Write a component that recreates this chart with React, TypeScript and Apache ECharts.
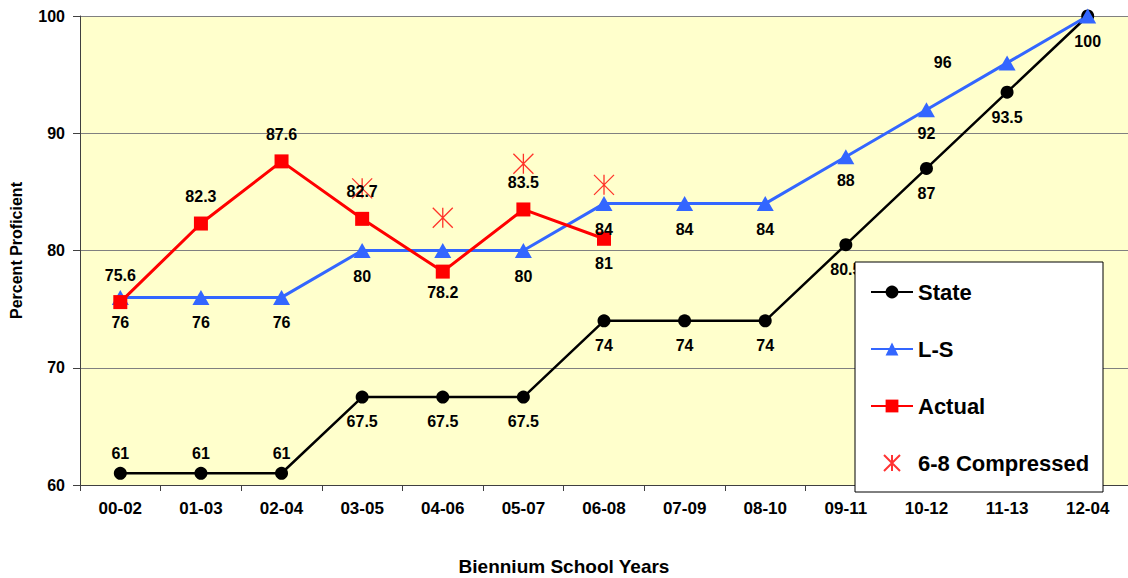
import React, { useEffect, useRef } from "react";
import * as echarts from "echarts";

const FONT = '"Liberation Sans", Arial, Helvetica, sans-serif';

const categories = ["00-02", "01-03", "02-04", "03-05", "04-06", "05-07", "06-08", "07-09", "08-10", "09-11", "10-12", "11-13", "12-04"];
const stateValues = [61, 61, 61, 67.5, 67.5, 67.5, 74, 74, 74, 80.5, 87, 93.5, 100];
const lsValues = [76, 76, 76, 80, 80, 80, 84, 84, 84, 88, 92, 96, 100];
const actualValues = [75.6, 82.3, 87.6, 82.7, 78.2, 83.5, 81, null, null, null, null, null, null];
const compressedValues = [null, null, null, 85.3, 82.8, 87.4, 85.6, null, null, null, null, null, null];
const yTicks = { min: 60, max: 100, interval: 10 };

// label placement (style only)
const statePos = ["top", "top", "top", "bottom", "bottom", "bottom", "bottom", "bottom", "bottom", "bottom", "bottom", "bottom", "bottom"];
const stateDist = [5, 5, 5, 10, 10, 10, 10, 10, 10, 10, 11, 11, 11];
const lsPos = ["bottom", "bottom", "bottom", "bottom", "none", "bottom", "bottom", "bottom", "bottom", "bottom", "bottom", "left", "none"];
const lsDist = [10, 10, 10, 10, 10, 10, 10, 10, 10, 8, 8, 47, 10];
const actualPos = ["top", "top", "top", "top", "bottom", "top", "bottom", "none", "none", "none", "none", "none", "none"];
const actualDist = [12, 12, 12, 12, 6, 12, 10, 0, 0, 0, 0, 0, 0];

function withLabels(values: (number | null)[], pos: string[], dist: number[]) {
  return values.map((v, i) => ({
    value: v,
    label:
      pos[i] === "none" || v === null
        ? { show: false }
        : { show: true, position: pos[i], distance: dist[i] },
  }));
}

const labelStyle = {
  show: true,
  fontFamily: FONT,
  fontWeight: "bold",
  fontSize: 16,
  color: "#000",
};

const STAR = "path://M0 0L20 20M20 0L0 20M10 0L10 20";

export default function App() {
  const ref = useRef<HTMLDivElement>(null);
  useEffect(() => {
    if (!ref.current) return;
    const chart = echarts.init(ref.current, null, { renderer: "svg" });
    chart.setOption({
      animation: false,
      textStyle: { fontFamily: FONT },
      grid: {
        left: 80,
        top: 16,
        width: 1060,
        height: 469,
        show: true,
        backgroundColor: "#FFFFCC",
        borderWidth: 0,
      },
      xAxis: {
        type: "category",
        data: categories,
        boundaryGap: true,
        axisLine: { show: true, lineStyle: { color: "#404040", width: 1 } },
        axisTick: { show: true, length: 6, lineStyle: { color: "#404040" } },
        axisLabel: {
          interval: 0,
          margin: 15,
          fontFamily: FONT,
          fontWeight: "bold",
          fontSize: 17,
          color: "#000",
        },
        splitLine: { show: false },
      },
      yAxis: {
        type: "value",
        min: yTicks.min,
        max: yTicks.max,
        interval: yTicks.interval,
        name: "Percent Proficient",
        nameLocation: "middle",
        nameGap: 56,
        nameTextStyle: { fontFamily: FONT, fontWeight: "bold", fontSize: 16, color: "#000" },
        axisLine: { show: true, lineStyle: { color: "#404040", width: 1 } },
        axisTick: { show: true, length: 7, lineStyle: { color: "#404040" } },
        axisLabel: {
          margin: 15,
          fontFamily: FONT,
          fontWeight: "bold",
          fontSize: 16,
          color: "#000",
        },
        splitLine: { show: true, lineStyle: { color: "#808080", width: 1 } },
      },
      legend: {
        orient: "vertical",
        left: 870,
        top: 281,
        itemWidth: 42,
        itemHeight: 16,
        itemGap: 35,
        padding: 0,
        selectedMode: false,
        z: 110,
        textStyle: { fontFamily: FONT, fontWeight: "bold", fontSize: 22, lineHeight: 22, color: "#000" },
        data: ["State", "L-S", "Actual", "6-8 Compressed"],
      },
      graphic: [
        {
          type: "rect",
          z: 100,
          shape: { x: 855, y: 262, width: 248, height: 230 },
          style: { fill: "#FFFFFF", stroke: "#000000", lineWidth: 1 },
        },
        {
          type: "text",
          z: 100,
          x: 564,
          y: 566,
          style: {
            text: "Biennium School Years",
            fontFamily: FONT,
            fontWeight: "bold",
            fontSize: 19,
            fill: "#000",
            align: "center",
            verticalAlign: "middle",
          },
        },
      ],
      series: [
        {
          name: "State",
          type: "line",
          data: withLabels(stateValues, statePos, stateDist),
          symbol: "circle",
          symbolSize: 13,
          itemStyle: { color: "#000000" },
          lineStyle: { color: "#000000", width: 2.5 },
          label: labelStyle,
        },
        {
          name: "L-S",
          type: "line",
          data: withLabels(lsValues, lsPos, lsDist),
          symbol: "triangle",
          symbolSize: [17, 15],
          itemStyle: { color: "#3366FF" },
          lineStyle: { color: "#3366FF", width: 3 },
          label: labelStyle,
        },
        {
          name: "Actual",
          type: "line",
          data: withLabels(actualValues, actualPos, actualDist),
          symbol: "rect",
          symbolSize: 14,
          itemStyle: { color: "#FF0000" },
          lineStyle: { color: "#FF0000", width: 3 },
          label: labelStyle,
        },
        {
          name: "6-8 Compressed",
          type: "scatter",
          data: compressedValues,
          symbol: STAR,
          symbolSize: 20,
          itemStyle: { color: "rgba(0,0,0,0)", borderColor: "#FF0000", borderWidth: 1.3 },
        },
      ],
    });
    return () => chart.dispose();
  }, []);
  return (
    <div
      ref={ref}
      style={{ position: "fixed", left: 0, top: 0, width: 1128, height: 578, background: "#fff" }}
    />
  );
}
